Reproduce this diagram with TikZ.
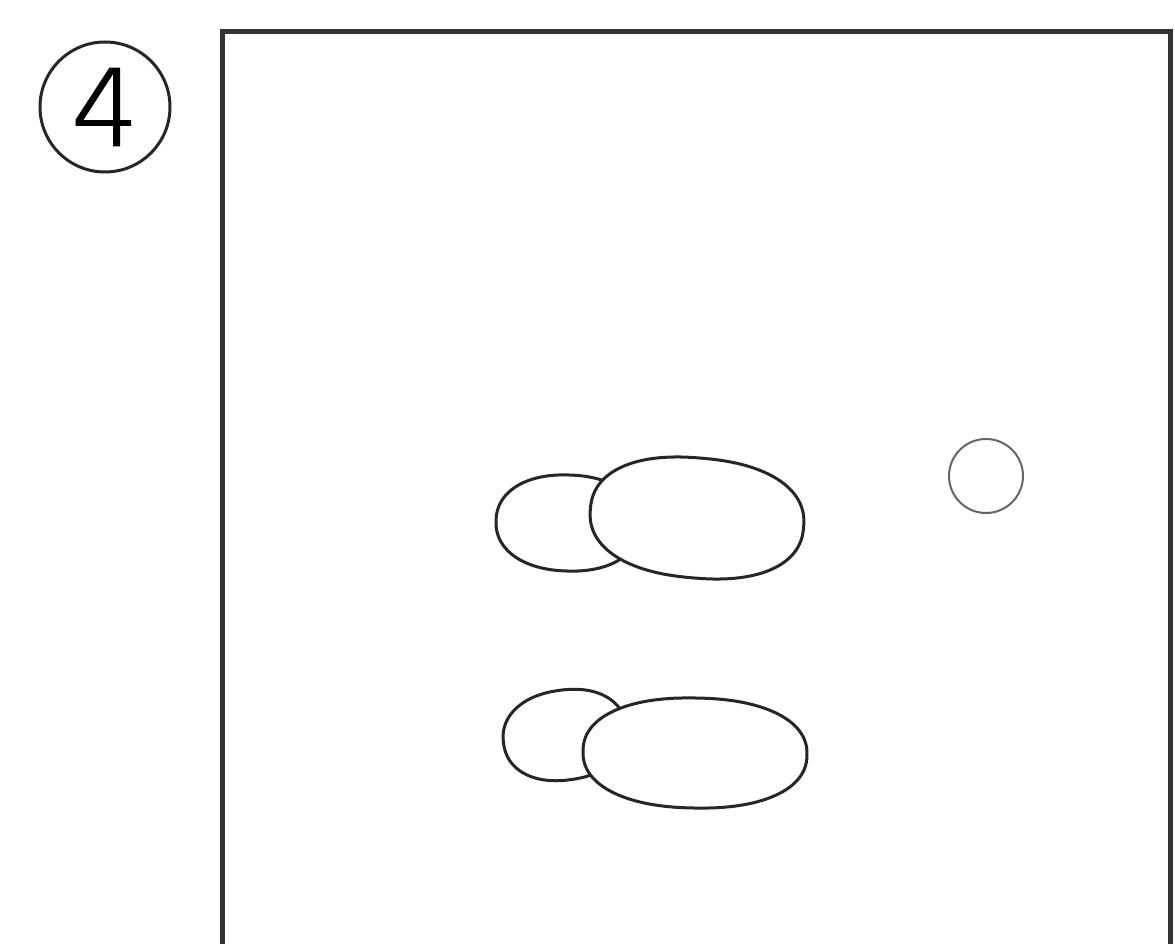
\documentclass[tikz,border=0pt]{standalone}
\usepackage{fontspec}
\newfontfamily\numfont[FakeBold=1.5]{DejaVu Sans ExtraLight}
\tikzset{
  frameline/.style={draw=black!80, line width=5pt},
  foot/.style={draw=black!85, line width=3pt, line join=round},
  toe/.style={foot, fill=white},
  marker/.style={draw=black!60, line width=2pt},
  numcircle/.style={circle, draw=black!85, line width=3pt, minimum size=130pt, inner sep=0pt, font=\numfont\fontsize{106}{106}\selectfont}
}
% #1 style, #2 cx, #3 cy, #4 a, #5 b, #6 rotation, #7 exponent
\newcommand\footblob[7]{%
  \draw[#1, rotate around={#6:(#2,#3)}] plot[domain=1:361, samples=121, smooth]
    ({#2 + #4*sign(cos(\x))*(abs(cos(\x)))^(2/#7)},
     {#3 + #5*sign(sin(\x))*(abs(sin(\x)))^(2/#7)}) -- cycle;}
\begin{document}
\begin{tikzpicture}[x=1pt,y=-1pt]
\fill[white] (0,0) rectangle (1175,944);
\useasboundingbox (0,0) rectangle (1175,944);
% circled number
\node[numcircle] (num) at (105,107) {4};
% frame
\coordinate (fbl) at (222,946);
\coordinate (ftl) at (222,32);
\coordinate (ftr) at (1170,32);
\coordinate (fbr) at (1170,946);
\draw[frameline] (fbl) -- (ftl) -- (ftr) -- (fbr);
% upper footprint
\footblob{foot}{568}{523}{72}{48}{-2}{2.2}
\footblob{toe}{697}{518}{107}{60}{-5}{2.3}
% lower footprint
\footblob{foot}{565}{735}{62}{45}{8}{2.2}
\footblob{toe}{695}{753}{112}{55}{-1}{2.25}
% small circle
\draw[marker] (986,476) circle[radius=37];
\end{tikzpicture}
\end{document}
